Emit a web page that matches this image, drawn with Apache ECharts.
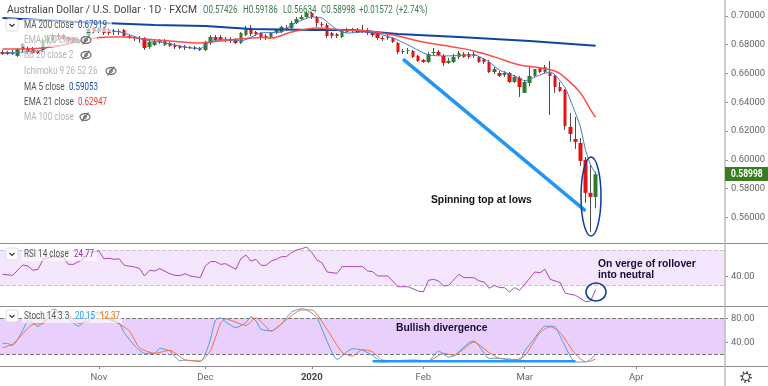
<!DOCTYPE html>
<html>
<head>
<meta charset="utf-8">
<title>AUD/USD</title>
<script src="https://cdn.jsdelivr.net/npm/echarts@6/dist/echarts.min.js"></script>
<style>
html, body { margin: 0; padding: 0; background: #fff; }
#chart { width: 768px; height: 386px; }
</style>
</head>
<body>
<div id="chart"></div>
<script>
//month tick labels
var monthLabels = ["Nov", "Dec", "2020", "Feb", "Mar", "Apr"];
var monthIndex = [19, 40, 61, 83, 103, 125];
var barSlots = 143;

//price tick labels
var priceTicks = [0.56, 0.58, 0.60, 0.62, 0.64, 0.66, 0.68, 0.70];
var rsiTicks = [40];
var stochTicks = [40, 80];

//daily candles
var opens = [
    0.6749, 0.6749, 0.6735, 0.6722, 0.6763, 0.6777, 0.6770, 0.6756, 0.6763, 0.6819,
    0.6833, 0.6867, 0.6867, 0.6853, 0.6846, 0.6812, 0.6812, 0.6867, 0.6916, 0.6888,
    0.6916, 0.6902, 0.6888, 0.6888, 0.6902, 0.6860, 0.6853, 0.6846, 0.6846, 0.6784,
    0.6798, 0.6819, 0.6798, 0.6812, 0.6798, 0.6791, 0.6788, 0.6784, 0.6781, 0.6777,
    0.6763, 0.6812, 0.6853, 0.6853, 0.6826, 0.6833, 0.6833, 0.6812, 0.6867, 0.6916,
    0.6888, 0.6881, 0.6860, 0.6853, 0.6881, 0.6888, 0.6916, 0.6916, 0.6951, 0.6978,
    0.6992, 0.7020, 0.6992, 0.6944, 0.6937, 0.6881, 0.6874, 0.6853, 0.6888, 0.6895,
    0.6902, 0.6895, 0.6902, 0.6881, 0.6881, 0.6846, 0.6846, 0.6846, 0.6812, 0.6749,
    0.6756, 0.6756, 0.6722, 0.6694, 0.6680, 0.6742, 0.6749, 0.6722, 0.6673, 0.6680,
    0.6715, 0.6735, 0.6735, 0.6722, 0.6715, 0.6701, 0.6680, 0.6610, 0.6603, 0.6590,
    0.6603, 0.6541, 0.6569, 0.6465, 0.6534, 0.6583, 0.6638, 0.6610, 0.6603, 0.6583,
    0.6506, 0.6485, 0.6229, 0.6145, 0.6118, 0.6000, 0.5771, 0.57426
];
var closes = [
    0.6735, 0.6735, 0.6742, 0.6770, 0.6805, 0.6749, 0.6742, 0.6742, 0.6833, 0.6853,
    0.6867, 0.6853, 0.6846, 0.6826, 0.6819, 0.6833, 0.6846, 0.6909, 0.6895, 0.6916,
    0.6881, 0.6881, 0.6895, 0.6895, 0.6860, 0.6853, 0.6846, 0.6839, 0.6777, 0.6819,
    0.6819, 0.6826, 0.6826, 0.6791, 0.6784, 0.6777, 0.6777, 0.6777, 0.6770, 0.6763,
    0.6812, 0.6853, 0.6833, 0.6833, 0.6833, 0.6826, 0.6812, 0.6881, 0.6916, 0.6874,
    0.6874, 0.6846, 0.6846, 0.6881, 0.6902, 0.6923, 0.6909, 0.6951, 0.6978, 0.6992,
    0.7020, 0.6992, 0.6951, 0.6937, 0.6860, 0.6860, 0.6860, 0.6902, 0.6902, 0.6902,
    0.6888, 0.6902, 0.6881, 0.6867, 0.6846, 0.6839, 0.6853, 0.6819, 0.6749, 0.6756,
    0.6763, 0.6715, 0.6687, 0.6680, 0.6735, 0.6749, 0.6729, 0.6673, 0.6687, 0.6715,
    0.6742, 0.6715, 0.6715, 0.6735, 0.6680, 0.6680, 0.6610, 0.6631, 0.6583, 0.6603,
    0.6541, 0.6576, 0.6506, 0.6541, 0.6583, 0.6631, 0.6610, 0.6645, 0.6583, 0.6506,
    0.6478, 0.6236, 0.6180, 0.6125, 0.5993, 0.5771, 0.5743, 0.58998
];
var lows = [
    0.6729, 0.6729, 0.6729, 0.6715, 0.6749, 0.6742, 0.6735, 0.6735, 0.6749, 0.6805,
    0.6826, 0.6833, 0.6833, 0.6819, 0.6812, 0.6805, 0.6805, 0.6853, 0.6881, 0.6881,
    0.6867, 0.6867, 0.6867, 0.6867, 0.6853, 0.6839, 0.6826, 0.6812, 0.6763, 0.6770,
    0.6791, 0.6805, 0.6791, 0.6784, 0.6770, 0.6770, 0.6763, 0.6770, 0.6763, 0.6756,
    0.6756, 0.6798, 0.6819, 0.6826, 0.6819, 0.6812, 0.6805, 0.6805, 0.6860, 0.6860,
    0.6860, 0.6833, 0.6833, 0.6839, 0.6874, 0.6881, 0.6895, 0.6909, 0.6944, 0.6972,
    0.6985, 0.6978, 0.6923, 0.6923, 0.6846, 0.6846, 0.6846, 0.6846, 0.6881, 0.6881,
    0.6881, 0.6881, 0.6867, 0.6853, 0.6833, 0.6826, 0.6833, 0.6812, 0.6735, 0.6735,
    0.6735, 0.6708, 0.6680, 0.6673, 0.6673, 0.6729, 0.6722, 0.6652, 0.6666, 0.6673,
    0.6701, 0.6708, 0.6701, 0.6708, 0.6673, 0.6666, 0.6603, 0.6596, 0.6576, 0.6576,
    0.6534, 0.6534, 0.6437, 0.6465, 0.6513, 0.6576, 0.6603, 0.6603, 0.6312, 0.6465,
    0.6472, 0.6208, 0.6125, 0.6076, 0.5958, 0.5701, 0.5500, 0.56634
];
var highs = [
    0.6763, 0.6756, 0.6763, 0.6777, 0.6812, 0.6791, 0.6784, 0.6763, 0.6846, 0.6867,
    0.6881, 0.6881, 0.6874, 0.6860, 0.6853, 0.6839, 0.6860, 0.6916, 0.6923, 0.6923,
    0.6923, 0.6916, 0.6909, 0.6909, 0.6909, 0.6867, 0.6860, 0.6860, 0.6853, 0.6833,
    0.6833, 0.6839, 0.6839, 0.6819, 0.6812, 0.6798, 0.6798, 0.6791, 0.6791, 0.6784,
    0.6826, 0.6867, 0.6867, 0.6867, 0.6853, 0.6853, 0.6846, 0.6888, 0.6930, 0.6937,
    0.6895, 0.6888, 0.6874, 0.6888, 0.6909, 0.6930, 0.6937, 0.6965, 0.6992, 0.7006,
    0.7027, 0.7027, 0.6999, 0.6958, 0.6951, 0.6888, 0.6881, 0.6909, 0.6916, 0.6916,
    0.6916, 0.6937, 0.6916, 0.6888, 0.6881, 0.6860, 0.6867, 0.6853, 0.6819, 0.6770,
    0.6777, 0.6763, 0.6729, 0.6701, 0.6749, 0.6777, 0.6763, 0.6735, 0.6708, 0.6735,
    0.6756, 0.6749, 0.6749, 0.6749, 0.6722, 0.6708, 0.6694, 0.6645, 0.6617, 0.6617,
    0.6610, 0.6590, 0.6583, 0.6555, 0.6645, 0.6631, 0.6645, 0.6659, 0.6687, 0.6590,
    0.6541, 0.6492, 0.6326, 0.6298, 0.6152, 0.6020, 0.5965, 0.59186
];

//moving averages, read at the bars listed in the index arrays
var ma200Index = [0, 15, 30, 40, 49, 61, 69, 78, 90, 104, 117];
var ma200Values = [0.6985, 0.6958, 0.6937, 0.6930, 0.6909, 0.6902, 0.6902, 0.6874, 0.6853, 0.6826, 0.67919];

var ma5Index = [0, 4, 8, 10, 12, 15, 16, 18, 20, 22, 24, 28, 32, 37, 39, 41, 44, 47, 51, 55, 57, 61, 63, 66, 68, 72, 77, 80, 84, 88, 93, 96, 98, 102, 103, 106, 108, 109, 111, 112, 113, 114, 115, 116, 117];
var ma5Values = [0.6742, 0.6749, 0.6763, 0.6819, 0.6846, 0.6826, 0.6833, 0.6888, 0.6909, 0.6895, 0.6881, 0.6833, 0.6812, 0.6777, 0.6774, 0.6819, 0.6839, 0.6826, 0.6881, 0.6888, 0.6937, 0.6992, 0.6985, 0.6902, 0.6881, 0.6888, 0.6846, 0.6798, 0.6729, 0.6722, 0.6729, 0.6680, 0.6624, 0.6569, 0.6548, 0.6590, 0.6610, 0.6590, 0.6499, 0.6416, 0.6326, 0.6229, 0.6069, 0.5965, 0.59053];

var ema21Index = [0, 4, 8, 12, 17, 21, 24, 28, 33, 39, 41, 45, 51, 53, 57, 62, 67, 72, 77, 83, 90, 93, 97, 102, 105, 109, 111, 114, 116, 117];
var ema21Values = [0.6770, 0.6770, 0.6777, 0.6798, 0.6839, 0.6853, 0.6853, 0.6839, 0.6826, 0.6812, 0.6819, 0.6833, 0.6850, 0.6846, 0.6888, 0.6916, 0.6902, 0.6895, 0.6867, 0.6819, 0.6777, 0.6756, 0.6715, 0.6659, 0.6645, 0.6617, 0.6569, 0.6465, 0.6347, 0.62947];

//RSI pane
var rsiIndex = [0, 2, 4, 5, 6, 7, 8, 10, 12, 13, 14, 16, 17, 19, 20, 21, 22, 23, 24, 26, 27, 28, 29, 30, 31, 33, 34, 35, 36, 37, 38, 39, 40, 41, 42, 43, 44, 46, 47, 48, 49, 50, 51, 52, 53, 54, 55, 56, 57, 58, 59, 60, 61, 62, 63, 64, 66, 67, 69, 71, 72, 73, 74, 76, 78, 80, 82, 83, 84, 85, 86, 87, 88, 90, 91, 93, 94, 95, 96, 97, 98, 99, 100, 101, 102, 103, 105, 106, 107, 108, 110, 111, 113, 115, 116, 117];
var rsiValues = [42.2, 41, 52.9, 51.7, 46.8, 47.9, 59.3, 62.4, 61.2, 53.6, 53.6, 60, 67, 68.9, 60, 60.5, 59.3, 60, 52.5, 50.6, 49, 40.3, 46.8, 46, 48.7, 42.9, 41, 40.7, 42.9, 40.3, 39.5, 38.4, 51.7, 56.7, 56.7, 53.6, 54.4, 47.9, 60, 64.3, 57.4, 59.3, 52.5, 52.5, 57.4, 59.3, 62.4, 62.4, 67, 70, 71.5, 73.4, 67, 58.6, 55.5, 44.9, 43.3, 51, 51, 51, 46, 45.2, 40.3, 40.3, 28, 28, 23, 22, 35.3, 36.5, 34.6, 28.8, 29.6, 42.2, 38.4, 38.4, 34.6, 33.4, 26.2, 29.6, 27, 27, 22, 27, 23.9, 30.8, 44.9, 44, 47.9, 36.5, 32.7, 20.5, 18.2, 11, 11.7, 24.77];

//stochastic pane
var stochKIndex = [0, 1, 2, 4, 5, 6, 7, 8, 10, 12, 14, 15, 17, 19, 21, 23, 24, 26, 28, 30, 31, 33, 35, 36, 39, 40, 41, 42, 43, 44, 46, 48, 49, 50, 51, 53, 55, 56, 57, 59, 60, 62, 64, 66, 69, 71, 73, 75, 77, 81, 84, 86, 88, 89, 92, 93, 94, 96, 98, 102, 103, 105, 107, 109, 110, 113, 115, 116, 117];
var stochKValues = [38.3, 38, 35, 60, 75.5, 72.8, 66, 74, 95, 88, 72, 67, 84, 90.5, 78, 72, 56, 35, 21.6, 21.6, 30, 25.5, 9, 10.5, 7.8, 20, 45, 77, 81, 74, 64.4, 72.8, 82.7, 75.5, 61.6, 58.8, 70, 81, 90.5, 96, 94, 81, 42, 11.6, 29.4, 27, 18, 7.2, 9, 10.5, 9, 25.5, 15.5, 17, 39.4, 42, 33.9, 13.3, 13.3, 10.5, 25.5, 47.7, 67, 65.5, 50, 7.2, 7.2, 11.6, 20.15];
var stochDIndex = [0, 2, 3, 6, 8, 10, 12, 15, 17, 19, 22, 25, 27, 30, 33, 36, 39, 41, 43, 44, 48, 50, 53, 56, 59, 61, 64, 67, 69, 71, 73, 75, 80, 84, 87, 89, 93, 96, 98, 101, 103, 106, 108, 110, 113, 115, 116, 117];
var stochDValues = [31, 36.6, 45, 70, 71, 89, 91.6, 71.6, 75.5, 88, 75.5, 59, 31, 21.6, 26.6, 10.5, 9, 25.5, 71.6, 79, 68, 81, 58.8, 78, 94, 94, 61.6, 23, 17, 28, 24, 10.5, 9, 9, 21.6, 18.3, 40.5, 22.7, 13.3, 10.5, 17.2, 56, 66, 56, 20, 7.8, 8.8, 12.37];

//drawn trend lines
var downTrendIndex = [79, 115];
var downTrendValues = [0.6700, 0.5646];
var divergenceIndex = [73, 113];
var divergenceValues = [8.3, 8.3];

var categories = [];
for (var c = 0; c < barSlots; c++) {
    var pos = monthIndex.indexOf(c);
    categories.push(pos >= 0 ? monthLabels[pos] : "");
}

function pairs(index, values) {
    var out = [];
    for (var i = 0; i < index.length; i++)
        out.push([index[i], values[i]]);
    return out;
}

var wickData = [], bodyData = [];
for (var b = 0; b < opens.length; b++) {
    wickData.push([opens[b], closes[b], lows[b], highs[b]]);
    bodyData.push([opens[b], closes[b], Math.min(opens[b], closes[b]), Math.max(opens[b], closes[b])]);
}

var UI_FONT = "Roboto, 'Noto Sans', sans-serif";
var NOTE_FONT = "'Liberation Sans', Arial, sans-serif";
var TEXT_DARK = "#555";
var TEXT_OFF = "#b4b4b4";

function isMonth(i) {
    return monthIndex.indexOf(i) >= 0;
}

function xAxis(gridIndex, showLabels) {
    return {
        type: "category", gridIndex: gridIndex, data: categories, boundaryGap: true,
        axisLine: { show: false },
        axisTick: { show: showLabels, interval: function (i) { return isMonth(i); }, alignWithLabel: true, length: 3, lineStyle: { color: "#888" } },
        axisLabel: {
            show: showLabels, interval: function (i) { return isMonth(i); }, color: "#666", fontSize: 9.5, fontFamily: UI_FONT, margin: 7,
            formatter: function (v) { return v === "2020" ? "{y|2020}" : v; },
            rich: { y: { color: "#444", fontSize: 9.5, fontWeight: "bold", fontFamily: UI_FONT } }
        },
        splitLine: { show: false }
    };
}

function yAxis(gridIndex, min, max, ticks, digits) {
    return {
        type: "value", gridIndex: gridIndex, position: "right", min: min, max: max,
        axisLine: { show: false },
        axisTick: { show: true, length: 3, customValues: ticks, lineStyle: { color: "#888" } },
        axisLabel: {
            customValues: ticks, color: "#666", fontSize: 9.4, fontFamily: UI_FONT, margin: 6,
            formatter: function (v) { return v.toFixed(digits); }
        },
        splitLine: { show: false }
    };
}

function lineSeries(name, x, y, data, color, width, smooth) {
    return {
        name: name, type: "line", xAxisIndex: x, yAxisIndex: y, data: data, showSymbol: false, symbol: "none",
        smooth: smooth, lineStyle: { color: color, width: width }, z: 5
    };
}

function label(x, y, text, color, font, weight, size, squeeze) {
    return {
        type: "text", x: x, y: y, z: 50, silent: true, scaleX: squeeze || 0.8,
        style: {
            text: text, fill: color, font: (weight || "normal") + " " + (size || 10.2) + "px " + (font || UI_FONT),
            textVerticalAlign: "middle"
        }
    };
}

function value(x, y, text, color) {
    return label(x, y, text, color, UI_FONT, "normal", 10, 0.8);
}

//pale box the platform puts behind a legend row
function paleBox(x, y, w, h) {
    return { type: "rect", z: 40, silent: true, shape: { x: x, y: y, width: w, height: h }, style: { fill: "rgba(255,255,255,0.62)" } };
}

function chevronButton(x, y) {
    return [
        { type: "rect", z: 41, silent: true, shape: { x: x, y: y, width: 12, height: 12, r: 2 }, style: { fill: "#fff", stroke: "#ddd", lineWidth: 1 } },
        { type: "polyline", z: 42, silent: true, shape: { points: [[x + 3.5, y + 5], [x + 6, y + 7.5], [x + 8.5, y + 5]] }, style: { stroke: "#333", lineWidth: 1.2, fill: null } }
    ];
}

function eyeOff(x, y) {
    return [
        { type: "ellipse", z: 50, silent: true, shape: { cx: x, cy: y, rx: 5, ry: 3.4 }, style: { stroke: "#666", lineWidth: 1.2, fill: "rgba(255,255,255,0.4)" } },
        { type: "circle", z: 50, silent: true, shape: { cx: x, cy: y, r: 1.4 }, style: { stroke: "#666", lineWidth: 1, fill: null } },
        { type: "line", z: 50, silent: true, shape: { x1: x - 3.5, y1: y + 4.5, x2: x + 3.5, y2: y - 4.5 }, style: { stroke: "#666", lineWidth: 1.2 } }
    ];
}

function hLine(y) {
    return { type: "line", z: 30, silent: true, shape: { x1: 0, y1: y + 0.5, x2: 768, y2: y + 0.5 }, style: { stroke: "#8c8c8c", lineWidth: 1 } };
}

var GREEN_TEXT = "#3b7a4b";
var graphics = [
    hLine(243), hLine(306), hLine(366),
    { type: "line", z: 30, silent: true, shape: { x1: 725, y1: 0, x2: 725, y2: 386 }, style: { stroke: "#bdbdbd", lineWidth: 1.5 } },
    //header
    label(7, 10, "Australian Dollar / U.S. Dollar · 1D · FXCM", "#444", UI_FONT, "normal", 11.2, 0.93),
    value(203, 10, "O0.57426", GREEN_TEXT),
    value(243, 10, "H0.59186", GREEN_TEXT),
    value(283, 10, "L0.56634", GREEN_TEXT),
    value(321, 10, "C0.58998", GREEN_TEXT),
    value(359, 10, "+0.01572", GREEN_TEXT),
    value(396, 10, "(+2.74%)", GREEN_TEXT),
    //main pane legend
    paleBox(22, 19, 90, 13), paleBox(22, 33, 75, 14),
    label(24, 25, "MA 200 close", TEXT_DARK),
    value(78, 25, "0.67919", "#1f4ea8"),
    label(24, 40, "EMA 100 close", TEXT_OFF),
    label(24, 55, "BB 20 close 2", TEXT_OFF),
    label(24, 71, "Ichimoku 9 26 52 26", TEXT_OFF),
    label(24, 87, "MA 5 close", TEXT_DARK),
    value(69, 87, "0.59053", "#1f4ea8"),
    label(24, 102, "EMA 21 close", TEXT_DARK),
    value(78, 102, "0.62947", "#e53935"),
    label(24, 117, "MA 100 close", TEXT_OFF),
    //RSI and stochastic legends
    paleBox(22, 248, 75, 13), paleBox(22, 310, 100, 13),
    label(24, 254, "RSI 14 close", TEXT_DARK),
    value(74, 254, "24.77", "#9c27b0"),
    label(24, 316, "Stoch 14 3 3", TEXT_DARK),
    value(75, 316, "20.15", "#2196f3"),
    value(100, 316, "12.37", "#ff6d00"),
    //last price tag
    { type: "rect", z: 45, silent: true, shape: { x: 725, y: 167, width: 43, height: 14 }, style: { fill: "#3a7d1e" } },
    label(731, 174, "0.58998", "#fff", UI_FONT, "bold", 10, 0.85),
    //notes on the chart
    label(431, 200, "Spinning top at lows", "#111", NOTE_FONT, "bold", 10.3, 1),
    label(598, 264, "On verge of rollover", "#140c3c", NOTE_FONT, "bold", 10.3, 1),
    label(598, 275, "into neutral", "#140c3c", NOTE_FONT, "bold", 10.3, 1),
    label(396, 328, "Bullish divergence", "#140c3c", NOTE_FONT, "bold", 10.3, 1),
    { type: "ellipse", z: 35, silent: true, shape: { cx: 591, cy: 196.5, rx: 10, ry: 39.5 }, style: { stroke: "#0d3c9a", lineWidth: 1.5, fill: null } },
    { type: "ellipse", z: 35, silent: true, shape: { cx: 596, cy: 292, rx: 10, ry: 9 }, style: { stroke: "#0d3c9a", lineWidth: 1.5, fill: null } },
    //settings gear
    { type: "circle", z: 45, silent: true, shape: { cx: 746, cy: 377, r: 3.6 }, style: { stroke: "#333", lineWidth: 1, fill: null } },
    { type: "circle", z: 45, silent: true, shape: { cx: 746, cy: 377, r: 5 }, style: { stroke: "#333", lineWidth: 1.6, lineDash: [1.6, 2.3], fill: null } }
];
graphics = graphics.concat(chevronButton(6, 19), chevronButton(6, 248), chevronButton(6, 310));
graphics = graphics.concat(eyeOff(86, 40), eyeOff(86, 55), eyeOff(111, 71), eyeOff(85, 117));

var chart = echarts.init(document.getElementById("chart"), null, { renderer: "canvas" });
var rsiSeries = lineSeries("RSI", 1, 1, pairs(rsiIndex, rsiValues), "#ab47bc", 1, false);
rsiSeries.markArea = { silent: true, itemStyle: { color: "#f4e6fc" }, data: [[{ yAxis: 70 }, { yAxis: 30 }]] };
rsiSeries.markLine = {
    silent: true, symbol: "none", label: { show: false }, lineStyle: { color: "#c9c2cc", type: "dashed", width: 1 },
    data: [{ yAxis: 70 }, { yAxis: 30 }]
};
var stochSeries = lineSeries("%K", 2, 2, pairs(stochKIndex, stochKValues), "#4b9cf0", 1, 0.2);
stochSeries.markArea = { silent: true, itemStyle: { color: "#e9cffb" }, data: [[{ yAxis: 80 }, { yAxis: 20 }]] };
stochSeries.markLine = {
    silent: true, symbol: "none", label: { show: false }, lineStyle: { color: "#787878", type: "dashed", width: 1 },
    data: [{ yAxis: 80 }, { yAxis: 20 }]
};

chart.setOption({
    animation: false,
    backgroundColor: "#fff",
    grid: [
        { left: 0, right: 43, top: 0, height: 243 },
        { left: 0, right: 43, top: 243, height: 62.5 },
        { left: 0, right: 43, top: 306, height: 60 }
    ],
    xAxis: [xAxis(0, false), xAxis(1, false), xAxis(2, true)],
    yAxis: [
        yAxis(0, 0.5423, 0.7110, priceTicks, 5),
        yAxis(1, 6.57, 78, rsiTicks, 2),
        yAxis(2, 0.5, 100.5, stochTicks, 2)
    ],
    graphic: { elements: graphics },
    series: [
        {
            name: "wick", type: "candlestick", xAxisIndex: 0, yAxisIndex: 0, data: wickData, barWidth: 1, z: 2,
            itemStyle: { color: "#4d4d4d", color0: "#4d4d4d", borderColor: "#4d4d4d", borderColor0: "#4d4d4d", borderWidth: 1 }
        },
        {
            name: "AUDUSD", type: "candlestick", xAxisIndex: 0, yAxisIndex: 0, data: bodyData, barWidth: 4, z: 3,
            itemStyle: { color: "#2f7a2f", color0: "#e80f0f", borderColor: "#2f6d2f", borderColor0: "#e80f0f", borderWidth: 0 }
        },
        lineSeries("MA 200", 0, 0, pairs(ma200Index, ma200Values), "#0d47a1", 2, false),
        lineSeries("EMA 21", 0, 0, pairs(ema21Index, ema21Values), "#ff4b4b", 1.5, 0.3),
        lineSeries("MA 5", 0, 0, pairs(ma5Index, ma5Values), "#4677c9", 1, 0.2),
        lineSeries("trend", 0, 0, pairs(downTrendIndex, downTrendValues), "#2196f3", 3.5, false),
        rsiSeries,
        stochSeries,
        lineSeries("%D", 2, 2, pairs(stochDIndex, stochDValues), "#f2733a", 1, 0.2),
        lineSeries("divergence", 2, 2, pairs(divergenceIndex, divergenceValues), "#2196f3", 2.5, false)
    ]
});
</script>
</body>
</html>
